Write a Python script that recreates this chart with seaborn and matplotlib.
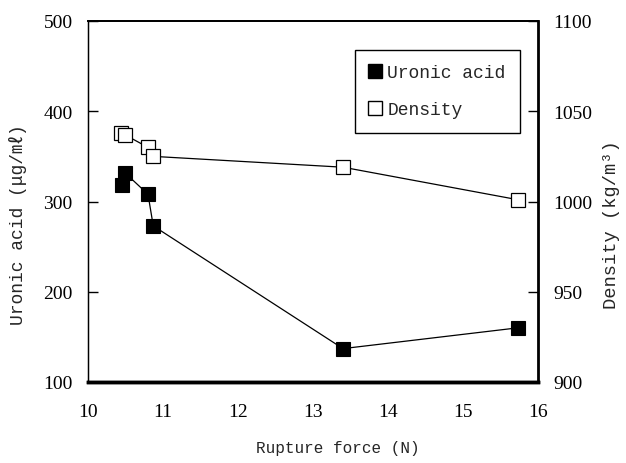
import matplotlib
matplotlib.use("Agg")
import matplotlib.pyplot as plt
import seaborn as sns
import pandas as pd
from matplotlib.lines import Line2D

# Data
rupture_force = [10.45, 10.49, 10.80, 10.87, 13.40, 15.73]
uronic_acid = [318, 332, 308, 273, 137, 160]
density_x = [10.44, 10.49, 10.80, 10.87, 13.40, 15.73]
density = [1038, 1037, 1030, 1025, 1019, 1001]

x_ticks = [10, 11, 12, 13, 14, 15, 16]
y_left_ticks = [100, 200, 300, 400, 500]
y_right_ticks = [900, 950, 1000, 1050, 1100]

sns.set_style("white")
plt.rcParams["font.family"] = ["Liberation Serif", "DejaVu Sans"]

mono = ["Liberation Mono", "Noto Sans CJK KR", "DejaVu Sans"]

df_u = pd.DataFrame({"x": rupture_force, "y": uronic_acid})
df_d = pd.DataFrame({"x": density_x, "y": density})

fig = plt.figure(figsize=(6.26, 4.64), dpi=100)
ax = fig.add_axes([88 / 626, 81 / 464, 450 / 626, 361 / 464])
ax2 = ax.twinx()

sns.lineplot(data=df_u, x="x", y="y", ax=ax, estimator=None, sort=True,
             color="black", linewidth=0.9, marker="s", markersize=10,
             markerfacecolor="black", markeredgecolor="black", markeredgewidth=0.8)
sns.lineplot(data=df_d, x="x", y="y", ax=ax2, estimator=None, sort=True,
             color="black", linewidth=0.9, marker="s", markersize=10,
             markerfacecolor="white", markeredgecolor="black", markeredgewidth=0.9)

ax.set_xlim(10, 16)
ax.set_ylim(100, 500)
ax2.set_ylim(900, 1100)
ax.set_xticks(x_ticks)
ax.set_yticks(y_left_ticks)
ax2.set_yticks(y_right_ticks)

ax.tick_params(axis="both", direction="in", length=7, width=1, labelsize=14,
               colors="black")
ax.tick_params(axis="x", pad=15)
ax.tick_params(axis="y", pad=11)
ax2.tick_params(axis="y", direction="in", length=7, width=1, labelsize=14,
                pad=11, colors="black")
ax.tick_params(top=False)

for a in (ax, ax2):
    for s in a.spines.values():
        s.set_color("black")
ax.spines["left"].set_linewidth(1.0)
ax.spines["top"].set_linewidth(1.3)
ax.spines["bottom"].set_linewidth(2.5)
ax2.spines["right"].set_linewidth(2.0)
ax2.spines["bottom"].set_linewidth(2.5)
ax2.spines["top"].set_linewidth(1.3)

ax.set_xlabel("Rupture force (N)", family=mono, fontsize=11.5)
ax.set_ylabel("Uronic acid (μg/㎖)", family=mono, fontsize=13)
ax2.set_ylabel("Density (kg/m³)", family=mono, fontsize=13.5)
ax.xaxis.set_label_coords(0.556, -0.162)
ax.yaxis.set_label_coords(-0.136, 0.44)
ax2.yaxis.set_label_coords(1.145, 0.44)

handles = [
    Line2D([], [], color="black", linewidth=0.9, marker="s", markersize=10,
           markerfacecolor="black", markeredgecolor="black"),
    Line2D([], [], color="black", linewidth=0.9, marker="s", markersize=10,
           markerfacecolor="white", markeredgecolor="black"),
]
leg = ax2.legend(handles, ["Uronic acid", "Density"], loc="upper right",
                 bbox_to_anchor=(0.96, 0.92), borderaxespad=0, frameon=True,
                 fancybox=False, edgecolor="black", framealpha=1,
                 handlelength=0.6, handletextpad=0.4, labelspacing=1.1,
                 borderpad=0.8, prop={"family": mono, "size": 13})
leg.get_frame().set_linewidth(1.0)

fig.savefig("out.png", dpi=100)
